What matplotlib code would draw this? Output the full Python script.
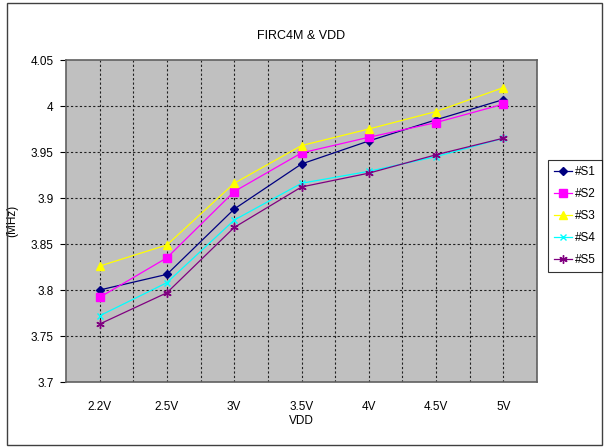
import numpy as np
import matplotlib
matplotlib.use("Agg")
import matplotlib.pyplot as plt
from matplotlib.patches import Rectangle

plt.rcParams['font.family'] = ['Liberation Sans', 'DejaVu Sans']

# data
vdd = ["2.2V", "2.5V", "3V", "3.5V", "4V", "4.5V", "5V"]
s1 = [3.800, 3.817, 3.888, 3.937, 3.962, 3.985, 4.007]
s2 = [3.792, 3.835, 3.907, 3.949, 3.966, 3.982, 4.002]
s3 = [3.826, 3.849, 3.916, 3.957, 3.975, 3.994, 4.020]
s4 = [3.772, 3.808, 3.876, 3.916, 3.929, 3.945, 3.965]
s5 = [3.763, 3.797, 3.868, 3.912, 3.927, 3.947, 3.965]
names = ["#S1", "#S2", "#S3", "#S4", "#S5"]

series = [s1, s2, s3, s4, s5]
colors = ["#000080", "#FF00FF", "#FFFF00", "#00FFFF", "#800080"]
markers = ["D", "s", "^", "x", (6, 2, 0)]
msizes = [4, 5.5, 6, 5, 6]

W, H = 605, 448
fig = plt.figure(figsize=(W / 100, H / 100), dpi=100)

# outer chart border
fig.patches.append(Rectangle((7 / W, 3 / H), 595 / W, 442 / H, transform=fig.transFigure,
                             fill=False, edgecolor="#404040", linewidth=1))

ax = fig.add_axes([66 / W, (H - 382) / H, 471 / W, 322 / H])
ax.set_facecolor("#C0C0C0")

x = np.arange(len(vdd))
ax.set_xlim(-0.5, len(vdd) - 0.5)
ax.set_ylim(3.7, 4.05)

# grid
for g in np.arange(0, len(vdd) - 0.4, 0.5):
    ax.axvline(g, color="#202020", linewidth=0.8, dashes=(2, 2), zorder=1)
for g in np.arange(3.75, 4.001, 0.05):
    ax.axhline(g, color="#202020", linewidth=0.8, dashes=(2, 2), zorder=1)

for vals, c, m, ms, n in zip(series, colors, markers, msizes, names):
    ax.plot(x, vals, color=c, marker=m, markersize=ms, linewidth=0.9,
            markeredgecolor=c, markerfacecolor=c, label=n, zorder=3)

ax.set_xticks(x)
ax.set_xticklabels(vdd, fontsize=8.5)
ax.tick_params(axis="x", length=0, pad=14)
ax.set_yticks(np.arange(3.7, 4.051, 0.05))
ax.set_yticklabels(["3.7", "3.75", "3.8", "3.85", "3.9", "3.95", "4", "4.05"], fontsize=8.5)
ax.tick_params(axis="y", length=4, width=0.8, pad=5)

for sp in ax.spines.values():
    sp.set_color("#606060")
    sp.set_linewidth(1.2)

ax.set_title("FIRC4M & VDD", fontsize=9, pad=15)
ax.set_xlabel("VDD", fontsize=8.5, labelpad=1)
ax.set_ylabel("(MHz)", fontsize=8.5, labelpad=9)

leg = fig.legend(loc="upper left", bbox_to_anchor=(548 / W, 1 - 160 / H), fontsize=8.5,
                 frameon=True, fancybox=False, handlelength=1.5, handletextpad=0.3,
                 borderpad=0.5, labelspacing=0.85, borderaxespad=0)
leg.get_frame().set_edgecolor("black")
leg.get_frame().set_linewidth(0.8)

fig.savefig("out.png", dpi=100)
